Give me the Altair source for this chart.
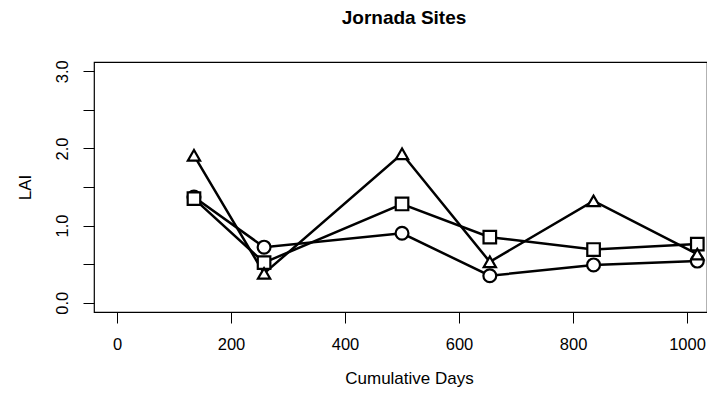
import altair as alt
import pandas as pd

# Data
days = [135, 258, 500, 654, 836, 1018]
circle_lai = [1.37, 0.72, 0.90, 0.35, 0.49, 0.54]
square_lai = [1.35, 0.52, 1.28, 0.85, 0.69, 0.76]
triangle_lai = [1.91, 0.38, 1.93, 0.53, 1.32, 0.63]
sites = ["circle", "square", "triangle-up"]
x_ticks = [0, 200, 400, 600, 800, 1000]
y_ticks = [0, 0.5, 1.0, 1.5, 2.0, 2.5, 3.0]

rows = []
for name, vals in zip(sites, [circle_lai, square_lai, triangle_lai]):
    for d, v in zip(days, vals):
        rows.append({"site": name, "days": d, "lai": v})
df = pd.DataFrame(rows)

FONT = "Liberation Sans"

x_enc = alt.X(
    "days:Q",
    scale=alt.Scale(domain=[-40.35, 1035], nice=False, zero=False),
    axis=alt.Axis(
        values=x_ticks, title="Cumulative Days", format="d",
        labelPadding=13, titleY=71.5, titleBaseline="alphabetic",
        titleAnchor="middle", titleX=315,
    ),
)
y_enc = alt.Y(
    "lai:Q",
    scale=alt.Scale(domain=[-0.12, 3.12], nice=False, zero=False),
    axis=alt.Axis(
        values=y_ticks, title="LAI",
        labelExpr="datum.value % 1 == 0 ? format(datum.value, '.1f') : ''",
        labelAngle=270, labelAlign="center", labelBaseline="alphabetic",
        labelPadding=16, titleAngle=270, titleX=-64, titleY=125,
        titleAlign="center", titleBaseline="alphabetic",
    ),
)

base = alt.Chart(df)

lines = base.mark_line(color="black", strokeWidth=2.5).encode(
    x=x_enc, y=y_enc, detail="site:N"
)

points = base.mark_point(
    filled=False, fill="white", fillOpacity=1, color="black", strokeWidth=2.2, opacity=1
).encode(
    x=x_enc,
    y=y_enc,
    shape=alt.Shape("site:N", scale=alt.Scale(domain=sites, range=sites), legend=None),
    size=alt.Size("site:N", scale=alt.Scale(domain=sites, range=[165, 150, 300]), legend=None),
)

chart = (
    alt.layer(lines, points)
    .properties(
        width=613,
        height=250,
        padding={"left": 86, "top": 54, "right": 0, "bottom": 76},
        autosize=alt.AutoSizeParams(type="none"),
        title=alt.TitleParams(
            "Jornada Sites", fontSize=19, fontWeight="bold", font=FONT,
            anchor="middle", frame="group", baseline="bottom", offset=12.5,
            dx=3.5, color="black",
        ),
    )
    .configure_view(stroke="black", strokeWidth=1.2)
    .configure_axis(
        domain=False, grid=False, tickColor="black", tickSize=11, tickWidth=1,
        labelFont=FONT, labelFontSize=16.5, labelColor="black",
        titleFont=FONT, titleFontSize=17, titleFontWeight="normal", titleColor="black",
    )
)

chart.save("out.html", embed_options={"renderer": "svg", "actions": False})
